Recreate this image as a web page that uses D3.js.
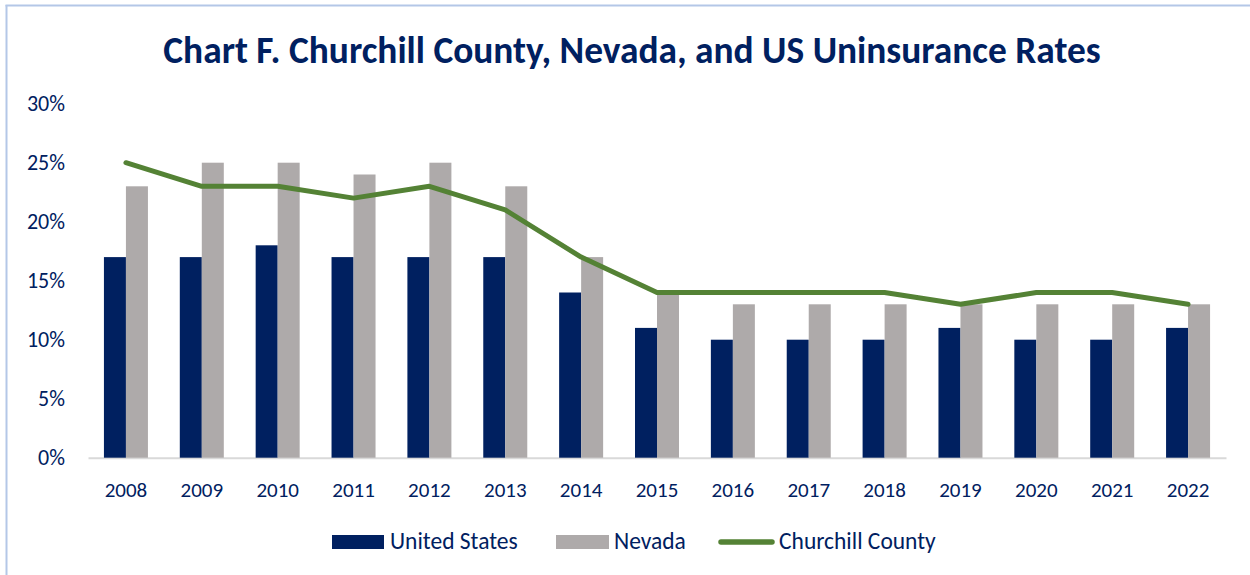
<!DOCTYPE html>
<html><head><meta charset="utf-8">
<script src="https://cdn.jsdelivr.net/npm/d3@7"></script>
<style>
html,body{margin:0;padding:0;background:#fff;}
svg{display:block;font-family:Carlito,Lato,"Open Sans",sans-serif;}
</style></head>
<body>
<svg id="chart" width="1250" height="575"></svg>
<script>
const years = ["2008","2009","2010","2011","2012","2013","2014","2015","2016","2017","2018","2019","2020","2021","2022"];
const unitedStates = [17,17,18,17,17,17,14,11,10,10,10,11,10,10,11];
const nevada = [23,25,25,24,25,23,17,14,13,13,13,13,13,13,13];
const churchill = [25,23,23,22,23,21,17,14,14,14,14,13,14,14,13];
const yTicks = [0,5,10,15,20,25,30];
const seriesNames = ["United States","Nevada","Churchill County"];

const navy = "#002060", gray = "#AEAAAA", green = "#548235", textColor = "#002060";
const svg = d3.select("#chart");

// frame (top and left edges only)
svg.append("line").attr("x1",5.5).attr("x2",1250).attr("y1",5.5).attr("y2",5.5)
  .attr("stroke","#B4C7E7").attr("stroke-width",2);
svg.append("line").attr("x1",6.5).attr("x2",6.5).attr("y1",5).attr("y2",575)
  .attr("stroke","#B4C7E7").attr("stroke-width",2);

const x = d3.scaleBand().domain(years).range([88,1226]).paddingInner(0.42).paddingOuter(0.21);
const y = d3.scaleLinear().domain([0,30]).range([457.7,103.7]);
const sub = d3.scaleBand().domain([0,1]).range([0,x.bandwidth()]);

// title
svg.append("text").attr("x",632).attr("y",63).attr("text-anchor","middle")
  .attr("font-weight","bold").attr("font-size",37.4).attr("fill",textColor)
  .text("Chart F. Churchill County, Nevada, and US Uninsurance Rates");

// y axis labels
const yAxis = d3.axisLeft(y).tickValues(yTicks).tickFormat(d=>d+"%").tickSize(0).tickPadding(0);
const yg = svg.append("g").attr("transform","translate(65,0)").call(yAxis);
yg.select(".domain").remove();
yg.selectAll("text").attr("font-size",22).attr("fill",textColor).attr("font-family","Carlito,Lato,sans-serif");

// x axis
const xAxis = d3.axisBottom(x).tickSize(0).tickPadding(24);
const xg = svg.append("g").attr("transform",`translate(0,${y(0)})`).call(xAxis);
xg.select(".domain").attr("stroke","#D9D9D9").attr("stroke-width",2);
xg.selectAll("text").attr("font-size",21).attr("fill",textColor).attr("font-family","Carlito,Lato,sans-serif")
  .attr("dy",null).attr("y",39.5);

// bars
const g = svg.append("g");
g.selectAll(".us").data(unitedStates).enter().append("rect")
  .attr("x",(d,i)=>x(years[i])+sub(0)).attr("width",sub.bandwidth())
  .attr("y",d=>y(d)).attr("height",d=>y(0)-y(d)).attr("fill",navy);
g.selectAll(".nv").data(nevada).enter().append("rect")
  .attr("x",(d,i)=>x(years[i])+sub(1)).attr("width",sub.bandwidth())
  .attr("y",d=>y(d)).attr("height",d=>y(0)-y(d)).attr("fill",gray);

// line
const line = d3.line().x((d,i)=>x(years[i])+x.bandwidth()/2).y(d=>y(d));
svg.append("path").datum(churchill).attr("d",line).attr("fill","none")
  .attr("stroke",green).attr("stroke-width",5).attr("stroke-linejoin","round").attr("stroke-linecap","round");

// legend
const lg = svg.append("g");
const ly = 542;
lg.append("rect").attr("x",332).attr("y",535).attr("width",52).attr("height",14).attr("fill",navy);
lg.append("text").attr("x",390).attr("y",549).attr("font-size",23.5).attr("fill",textColor).text(seriesNames[0]);
lg.append("rect").attr("x",556).attr("y",535).attr("width",53).attr("height",14).attr("fill",gray);
lg.append("text").attr("x",614).attr("y",549).attr("font-size",23.5).attr("fill",textColor).text(seriesNames[1]);
lg.append("line").attr("x1",721).attr("x2",772).attr("y1",ly).attr("y2",ly)
  .attr("stroke",green).attr("stroke-width",5.5).attr("stroke-linecap","round");
lg.append("text").attr("x",779).attr("y",549).attr("font-size",23.5).attr("fill",textColor).text(seriesNames[2]);
</script>
</body></html>
